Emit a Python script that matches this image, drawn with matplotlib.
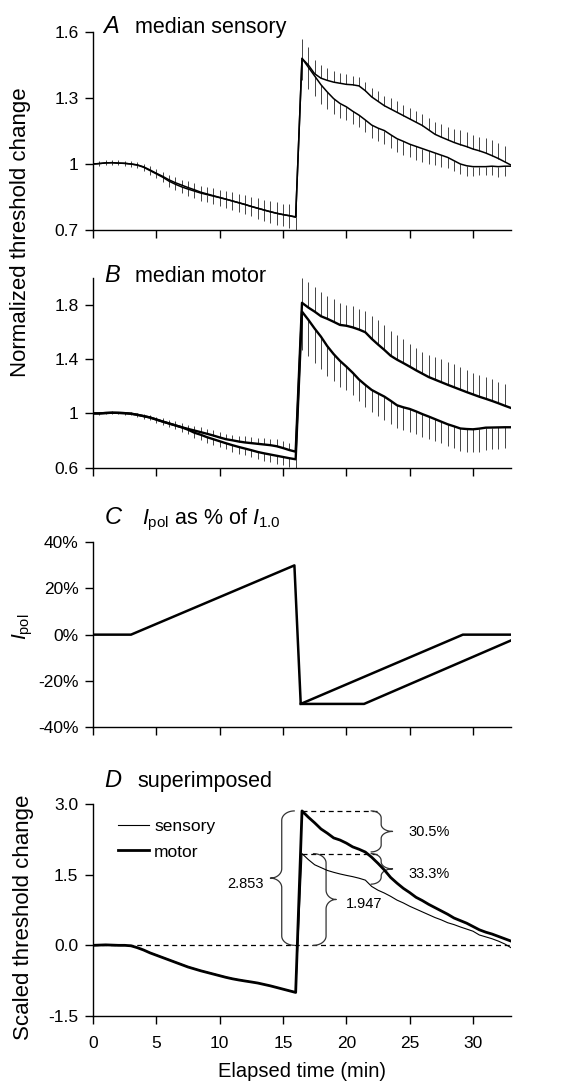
import numpy as np
import matplotlib
matplotlib.use('Agg')
from matplotlib import pyplot as plt

plt.rcParams['font.family'] = ['Liberation Sans', 'DejaVu Sans']
plt.rcParams['mathtext.fontset'] = 'custom'
plt.rcParams['mathtext.rm'] = 'Liberation Sans'
plt.rcParams['mathtext.it'] = 'Liberation Sans:italic'

# ---- data (0.5 min sampling) ----
minutes = np.linspace(0, 33, 67)

# A median sensory
sens_up = [1.0, 1.002, 1.005, 1.006, 1.004, 1.003, 1.0,
           0.996, 0.987, 0.973, 0.958, 0.944, 0.928,
           0.915, 0.904, 0.893, 0.883, 0.872, 0.864, 0.856, 0.848,
           0.84, 0.832, 0.824, 0.816, 0.807, 0.799, 0.791, 0.783, 0.776, 0.77, 0.765, 0.76,
           1.48, 1.45, 1.41, 1.39, 1.38, 1.372, 1.367, 1.362, 1.36, 1.355, 1.333, 1.305,
           1.285, 1.265, 1.25, 1.235, 1.22, 1.205, 1.19, 1.175, 1.155, 1.135, 1.122, 1.11,
           1.098, 1.088, 1.079, 1.068, 1.06, 1.05, 1.038, 1.025, 1.01, 0.995]
sens_lo = [1.0, 1.002, 1.005, 1.006, 1.004, 1.003, 1.0,
           0.995, 0.985, 0.97, 0.955, 0.94, 0.922,
           0.908, 0.896, 0.886, 0.877, 0.868, 0.861, 0.854, 0.847,
           0.84, 0.832, 0.824, 0.816, 0.807, 0.799, 0.791, 0.783, 0.776, 0.77, 0.765, 0.758,
           1.48, 1.44, 1.40, 1.36, 1.327, 1.297, 1.275, 1.26, 1.24, 1.222, 1.2, 1.177,
           1.163, 1.152, 1.133, 1.115, 1.103, 1.09, 1.08, 1.07, 1.06, 1.05, 1.04, 1.03,
           1.015, 1.0, 0.992, 0.988, 0.988, 0.988, 0.99, 0.988, 0.99, 0.99]
sens_up_err = [0.01, 0.01, 0.012, 0.01, 0.012, 0.01, 0.012,
               0.015, 0.015, 0.018, 0.02, 0.02, 0.022,
               0.025, 0.025, 0.028, 0.03, 0.03, 0.032, 0.035, 0.035,
               0.038, 0.04, 0.04, 0.042, 0.042, 0.045, 0.045, 0.048, 0.05, 0.05, 0.052, 0.055,
               0.09, 0.08, 0.065, 0.06, 0.055, 0.05, 0.045, 0.045, 0.042, 0.04, 0.04, 0.042,
               0.045, 0.045, 0.048, 0.05, 0.05, 0.05, 0.05, 0.052, 0.055, 0.058, 0.06, 0.06,
               0.062, 0.065, 0.065, 0.065, 0.065, 0.068, 0.07, 0.07, 0.072, 0.075]
sens_lo_err = [0.01, 0.012, 0.01, 0.012, 0.01, 0.012, 0.012,
               0.015, 0.018, 0.02, 0.02, 0.022, 0.025,
               0.028, 0.03, 0.03, 0.032, 0.035, 0.035, 0.038, 0.04,
               0.04, 0.042, 0.042, 0.045, 0.045, 0.048, 0.048, 0.05, 0.052, 0.052, 0.055, 0.058,
               0.1, 0.1, 0.09, 0.085, 0.075, 0.07, 0.065, 0.06, 0.058, 0.055, 0.055, 0.058,
               0.06, 0.06, 0.06, 0.06, 0.06, 0.06, 0.06, 0.06, 0.058, 0.055, 0.052, 0.05,
               0.048, 0.045, 0.045, 0.042, 0.04, 0.04, 0.042, 0.045, 0.045, 0.045]

# B median motor
mot_up = [1.0, 1.0, 1.003, 1.005, 1.004, 1.002, 0.998,
          0.99, 0.98, 0.97, 0.955, 0.94, 0.926,
          0.912, 0.898, 0.886, 0.874, 0.862, 0.85, 0.837, 0.823,
          0.81, 0.802, 0.793, 0.786, 0.781, 0.776, 0.771, 0.766, 0.758, 0.745, 0.73, 0.718,
          1.815, 1.78, 1.75, 1.716, 1.697, 1.675, 1.652, 1.646, 1.634, 1.618, 1.598, 1.55,
          1.508, 1.468, 1.425, 1.396, 1.371, 1.345, 1.318, 1.293, 1.268, 1.249, 1.23, 1.211,
          1.193, 1.175, 1.157, 1.14, 1.123, 1.108, 1.092, 1.075, 1.057, 1.04]
mot_lo = [1.0, 1.0, 1.003, 1.005, 1.004, 1.002, 0.998,
          0.99, 0.98, 0.97, 0.955, 0.94, 0.926,
          0.912, 0.898, 0.88, 0.858, 0.843, 0.825, 0.81, 0.795,
          0.78, 0.766, 0.753, 0.741, 0.729, 0.716, 0.706, 0.697, 0.688, 0.679, 0.67, 0.662,
          1.75, 1.69, 1.625, 1.565, 1.495, 1.437, 1.387, 1.345, 1.3, 1.25, 1.21, 1.173,
          1.148, 1.124, 1.093, 1.06, 1.045, 1.033, 1.015, 0.995, 0.977, 0.958, 0.939, 0.92,
          0.905, 0.889, 0.885, 0.883, 0.888, 0.895, 0.896, 0.897, 0.898, 0.898]
mot_up_err = [0.01, 0.01, 0.01, 0.01, 0.01, 0.01, 0.01,
              0.015, 0.018, 0.02, 0.022, 0.025, 0.028,
              0.03, 0.03, 0.032, 0.035, 0.035, 0.038, 0.04, 0.04,
              0.04, 0.042, 0.042, 0.045, 0.045, 0.045, 0.048, 0.048, 0.05, 0.05, 0.05, 0.05,
              0.185, 0.185, 0.18, 0.175, 0.17, 0.165, 0.16, 0.155, 0.155, 0.155, 0.16, 0.17,
              0.18, 0.185, 0.185, 0.18, 0.175, 0.17, 0.165, 0.16, 0.16, 0.165, 0.17, 0.17,
              0.17, 0.17, 0.165, 0.16, 0.16, 0.16, 0.16, 0.16, 0.16, 0.16]
mot_lo_err = [0.01, 0.01, 0.01, 0.01, 0.01, 0.01, 0.01,
              0.015, 0.018, 0.02, 0.022, 0.025, 0.028,
              0.03, 0.032, 0.035, 0.038, 0.04, 0.04, 0.042, 0.045,
              0.045, 0.048, 0.05, 0.05, 0.052, 0.055, 0.055, 0.058, 0.06, 0.06, 0.062, 0.062,
              0.28, 0.27, 0.25, 0.24, 0.22, 0.2, 0.19, 0.17, 0.165, 0.16, 0.16, 0.165,
              0.17, 0.17, 0.17, 0.17, 0.17, 0.17, 0.17, 0.17, 0.165, 0.16, 0.16, 0.16,
              0.16, 0.165, 0.17, 0.17, 0.17, 0.165, 0.16, 0.16, 0.156, 0.156]

# C polarizing current (% of I1.0), breakpoints of the ramps
ipol_t1 = [0, 3.0, 15.9, 16.4, 29.2, 33]
ipol_v1 = [0, 0, 30, -30, 0, 0]
ipol_t2 = [16.4, 21.4, 33]
ipol_v2 = [-30, -30, -2.5]

# D superimposed (scaled)
sup_sens = [0, 0.005, 0.01, 0.005, 0, 0, -0.01,
            -0.05, -0.1, -0.155, -0.205, -0.255, -0.305,
            -0.355, -0.405, -0.455, -0.495, -0.535, -0.57, -0.605, -0.64,
            -0.675, -0.705, -0.73, -0.755, -0.776, -0.798, -0.828, -0.858, -0.892, -0.928, -0.962, -0.995,
            1.947, 1.82, 1.71, 1.65, 1.59, 1.55, 1.515, 1.485, 1.458, 1.425, 1.384, 1.25,
            1.17, 1.11, 1.04, 0.96, 0.9, 0.83, 0.77, 0.71, 0.65, 0.59, 0.54, 0.48,
            0.44, 0.39, 0.345, 0.3, 0.22, 0.18, 0.14, 0.09, 0.03, -0.05]
sup_mot = [0, 0.005, 0.01, 0.005, 0, 0, -0.01,
           -0.05, -0.1, -0.16, -0.21, -0.26, -0.31,
           -0.36, -0.41, -0.46, -0.5, -0.54, -0.575, -0.61, -0.645,
           -0.68, -0.71, -0.735, -0.757, -0.778, -0.8, -0.83, -0.86, -0.895, -0.93, -0.965, -1.0,
           2.853, 2.72, 2.6, 2.47, 2.38, 2.28, 2.235, 2.17, 2.09, 2.04, 1.98, 1.87,
           1.74, 1.6, 1.44, 1.32, 1.21, 1.12, 1.02, 0.95, 0.87, 0.8, 0.73, 0.66,
           0.58, 0.525, 0.47, 0.4, 0.33, 0.28, 0.24, 0.19, 0.14, 0.09]
peak_t = 16.5
mot_peak = 2.853
sens_peak = 1.947
mot_decay = 0.305
sens_decay = 0.333

xticks = [0, 5, 10, 15, 20, 25, 30]
yticks_a = [0.7, 1.0, 1.3, 1.6]
ylabels_a = ['0.7', '1', '1.3', '1.6']
yticks_b = [0.6, 1.0, 1.4, 1.8]
ylabels_b = ['0.6', '1', '1.4', '1.8']
yticks_c = [-40, -20, 0, 20, 40]
ylabels_c = ['-40%', '-20%', '0%', '20%', '40%']
yticks_d = [-1.5, 0.0, 1.5, 3.0]
ylabels_d = ['-1.5', '0.0', '1.5', '3.0']

W, H = 565, 1087
fig = plt.figure(figsize=(W/100, H/100), dpi=100)

def px(x, y):
    return x / W, 1 - y / H

left, width = 93/W, 418/W
axA = fig.add_axes([left, 1-230/H, width, 198/H])
axB = fig.add_axes([left, 1-467.7/H, width, 190/H])
axC = fig.add_axes([left, 1-727/H, width, 184.7/H])
axD = fig.add_axes([left, 1-1016/H, width, 212/H])

for ax in (axA, axB, axC, axD):
    for s in ('top', 'right'):
        ax.spines[s].set_visible(False)
    for s in ('left', 'bottom'):
        ax.spines[s].set_linewidth(1.0)
    ax.set_xlim(0, 33)
    ax.set_xticks(xticks)
    ax.tick_params(direction='out', length=5.5, width=1, labelsize=12.5)
    ax.tick_params(axis='y', pad=5)
    ax.tick_params(axis='x', pad=9)
    if ax is not axD:
        ax.set_xticklabels([])

t = minutes
bar_kw = dict(colors='0.15', linewidth=0.6, zorder=1)

# A
axA.vlines(t, sens_up, np.array(sens_up) + np.array(sens_up_err), **bar_kw)
axA.vlines(t, np.array(sens_lo) - np.array(sens_lo_err), sens_lo, **bar_kw)
axA.plot(t, sens_up, color='k', lw=1.1, zorder=3)
axA.plot(t, sens_lo, color='k', lw=1.1, zorder=3)
axA.set_ylim(0.7, 1.6)
axA.set_yticks(yticks_a)
axA.set_yticklabels(ylabels_a)

# B
axB.vlines(t, mot_up, np.array(mot_up) + np.array(mot_up_err), **bar_kw)
axB.vlines(t, np.array(mot_lo) - np.array(mot_lo_err), mot_lo, **bar_kw)
axB.plot(t, mot_up, color='k', lw=1.7, zorder=3)
axB.plot(t, mot_lo, color='k', lw=1.7, zorder=3)
axB.set_ylim(0.6, 2.0)
axB.set_yticks(yticks_b)
axB.set_yticklabels(ylabels_b)

# C
axC.plot(ipol_t1, ipol_v1, color='k', lw=1.8)
axC.plot(ipol_t2, ipol_v2, color='k', lw=1.8)
axC.set_ylim(-40, 40)
axC.set_yticks(yticks_c)
axC.set_yticklabels(ylabels_c)

# D
axD.axhline(0, color='k', lw=0.9, ls=(0, (4, 3)), zorder=1)
axD.plot(t, sup_sens, color='k', lw=0.8, label='sensory', zorder=3)
axD.plot(t, sup_mot, color='k', lw=2.0, label='motor', zorder=3)
axD.set_ylim(-1.5, 3.0)
axD.set_yticks(yticks_d)
axD.set_yticklabels(ylabels_d)
axD.set_xticklabels([str(v) for v in xticks])
axD.set_xlabel('Elapsed time (min)', fontsize=14.5, labelpad=8)

axD.plot([peak_t, 22.5], [mot_peak, mot_peak], color='k', lw=0.9, ls=(0, (4, 3)))
axD.plot([peak_t, 22.5], [sens_peak, sens_peak], color='k', lw=0.9, ls=(0, (4, 3)))


def brace(ax, x, y0, y1, d, w_end, w_tip, ry):
    # curly brace along y, tip pointing to side d (+1 right, -1 left)
    th = np.linspace(0, np.pi/2, 25)
    ym = (y0 + y1) / 2
    xs, ys = [], []
    xs += list(x - d*w_end + d*w_end*np.sin(th)); ys += list(y0 + ry - ry*np.cos(th))
    xs += list(x + d*w_tip - d*w_tip*np.cos(th)); ys += list(ym - ry + ry*np.sin(th))
    xs += list(x + d*w_tip - d*w_tip*np.sin(th)); ys += list(ym + ry - ry*np.cos(th))
    xs += list(x - d*w_end + d*w_end*np.cos(th)); ys += list(y1 - ry + ry*np.sin(th))
    ax.plot(xs, ys, color='0.2', lw=0.9, solid_capstyle='round')


brace(axD, 14.9, 0, mot_peak, -1, 1.0, 0.9, 0.2)
brace(axD, 18.4, 0, sens_peak, 1, 1.0, 0.8, 0.2)
brace(axD, 22.75, mot_peak*(1-mot_decay), mot_peak, 1, 0.8, 0.9, 0.15)
brace(axD, 22.75, sens_peak*(1-sens_decay), sens_peak, 1, 0.8, 0.9, 0.15)

ann_kw = dict(fontsize=10.5, va='center')
axD.text(13.45, 1.30, f'{mot_peak:.3f}', ha='right', **ann_kw)
axD.text(19.95, 0.87, f'{sens_peak:.3f}', ha='left', **ann_kw)
axD.text(24.9, 2.40, f'{mot_decay*100:.1f}%', ha='left', **ann_kw)
axD.text(24.9, 1.51, f'{sens_decay*100:.1f}%', ha='left', **ann_kw)

axD.legend(loc='upper left', bbox_to_anchor=(0.059, 0.93), frameon=False,
           fontsize=12.5, handlelength=1.8, handletextpad=0.3,
           labelspacing=0.6, borderpad=0, borderaxespad=0)

# panel titles
let_kw = dict(fontsize=17, style='italic', va='baseline')
tit_kw = dict(fontsize=15.5, va='baseline')
fig.text(*px(103, 33), 'A', **let_kw)
fig.text(*px(135, 33), 'median sensory', **tit_kw)
fig.text(*px(104, 282), 'B', **let_kw)
fig.text(*px(135, 282), 'median motor', **tit_kw)
fig.text(*px(105, 524), 'C', **let_kw)
fig.text(*px(142, 524), r'$I_{\mathrm{pol}}$ as % of $I_{1.0}$', **tit_kw)
fig.text(*px(104, 787), 'D', **let_kw)
fig.text(*px(137, 787), 'superimposed', **tit_kw)

# y labels
fig.text(*px(21, 232), 'Normalized threshold change', rotation=90,
         ha='center', va='center', fontsize=16)
fig.text(*px(23, 627), r'$I_{\mathrm{pol}}$', rotation=90,
         ha='center', va='center', fontsize=15)
fig.text(*px(24, 917), 'Scaled threshold change', rotation=90,
         ha='center', va='center', fontsize=16)

fig.savefig('out.png', dpi=100)
